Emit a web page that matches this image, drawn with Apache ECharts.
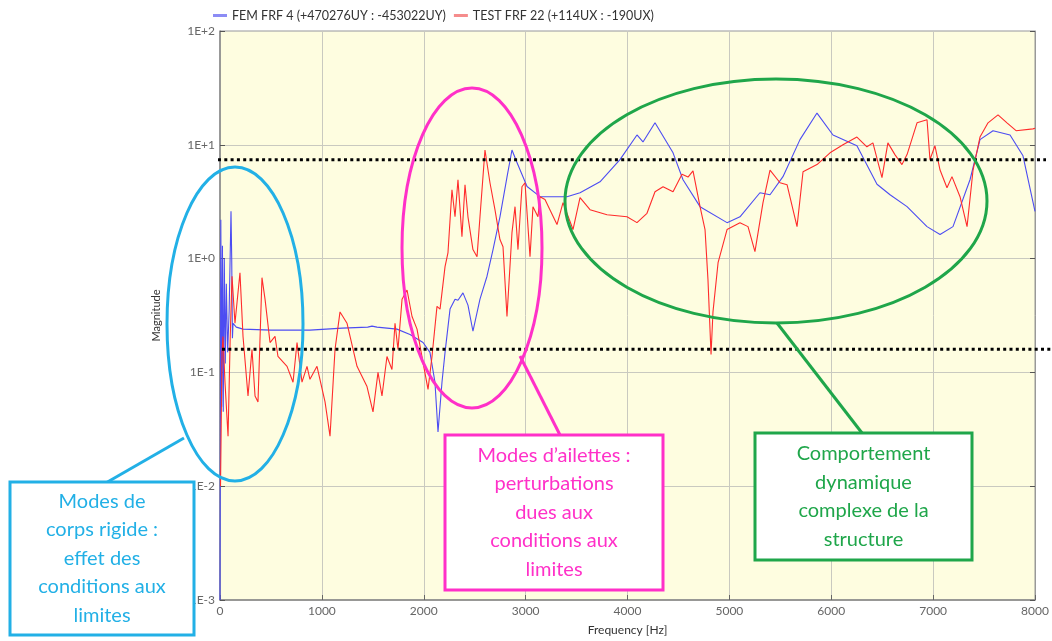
<!DOCTYPE html>
<html>
<head>
<meta charset="utf-8">
<script src="https://cdn.jsdelivr.net/npm/echarts@6/dist/echarts.min.js"></script>
<style>
html,body{margin:0;padding:0;background:#fff;}
#chart{width:1052px;height:641px;}
</style>
</head>
<body>
<div id="chart"></div>
<script>
// ---- data ----
var seriesNames = ['FEM FRF 4 (+470276UY : -453022UY)', 'TEST FRF 22 (+114UX : -190UX)'];

var femFreq = [0,8,16,24,32,42,52,62,75,90,108,115,122,128,160,226,500,883,1200,1450,1492,1510,1541,1737,1865,1993,2061,2110,2140,2179,2209,2258,2307,2336,2385,2434,2483,2552,2621,2680,2748,2817,2866,2915,3014,3141,3406,3534,3730,3926,4093,4152,4270,4447,4545,4712,4977,5104,5300,5399,5526,5693,5860,6017,6252,6449,6577,6744,6940,7068,7195,7362,7460,7588,7755,7882,8000];
var femMag  = [0.001,2.2,0.05,1.3,0.045,1.0,0.12,0.6,0.15,0.35,2.6,1.0,0.2,0.27,0.25,0.24,0.235,0.235,0.245,0.25,0.255,0.245,0.25,0.24,0.215,0.183,0.15,0.082,0.03,0.082,0.15,0.36,0.44,0.43,0.5,0.39,0.23,0.44,0.7,1.2,2.33,5.2,9.0,7.0,4.3,3.5,3.5,3.79,4.73,7.4,12.2,10.6,15.6,8.5,4.93,2.86,2.07,2.33,3.79,3.64,5.25,11.1,19,12.2,9.8,4.5,3.64,2.86,1.91,1.63,1.91,4.93,11.1,13.3,12.2,8.0,2.6];

var testFreq = [5,20,29,49,79,100,118,147,196,226,275,314,344,373,412,442,491,540,569,658,717,756,805,854,883,952,1031,1080,1129,1178,1247,1345,1443,1502,1551,1590,1639,1688,1718,1747,1787,1836,1885,1934,1993,2042,2081,2130,2160,2209,2238,2277,2307,2336,2375,2405,2434,2483,2523,2552,2601,2650,2699,2748,2778,2817,2866,2896,2925,2964,2994,3043,3072,3121,3141,3190,3308,3367,3465,3534,3632,3799,3995,4093,4191,4270,4349,4447,4535,4594,4643,4712,4761,4790,4820,4839,4889,4977,5104,5183,5251,5330,5399,5497,5566,5664,5723,5860,5988,6115,6252,6350,6409,6498,6556,6625,6694,6744,6842,6940,6969,7018,7068,7136,7185,7264,7333,7392,7460,7539,7637,7725,7814,7980,8000];
var testMag  = [0.01,0.15,0.207,0.082,0.0275,0.2,0.7,0.27,0.75,0.207,0.062,0.159,0.062,0.055,0.68,0.44,0.183,0.207,0.138,0.113,0.082,0.183,0.082,0.113,0.087,0.113,0.055,0.0275,0.159,0.34,0.27,0.113,0.075,0.045,0.1,0.062,0.138,0.106,0.27,0.159,0.44,0.53,0.31,0.24,0.122,0.071,0.138,0.38,0.36,0.85,1.13,4.03,2.33,4.93,1.56,4.46,2.33,1.2,1.04,2.33,9.0,4.64,2.69,1.47,1.27,0.31,1.69,2.86,1.2,4.28,4.64,1.04,2.86,2.33,3.5,3.3,1.99,3.1,1.8,3.43,2.69,2.43,2.33,2.07,2.5,3.87,4.28,3.87,5.5,5.2,5.9,2.86,1.8,0.65,0.144,0.34,0.92,1.8,2.07,1.91,1.15,3.1,6.0,4.64,4.46,1.91,5.8,6.7,8.5,10.0,11.7,9.6,10.4,5.15,10.4,8.2,6.7,8.2,15.6,16.6,7.4,9.8,6.0,4.2,5.25,3.5,1.91,6.0,11.7,15.6,18.3,15.6,13.3,13.8,14];

var xTickLabels = ['0','1000','2000','3000','4000','5000','6000','7000','8000'];
var yTickLabels = ['1E-3','1E-2','1E-1','1E+0','1E+1','1E+2'];
var thresholds = [7.4, 0.16];

var noteBlue = ['Modes de','corps rigide :','effet des','conditions aux','limites'];
var notePink = ['Modes d\u2019ailettes :','perturbations','dues aux','conditions aux','limites'];
var noteGreen = ['Comportement','dynamique','complexe de la','structure'];

// ---- chart ----
var chart = echarts.init(document.getElementById('chart'), null, {renderer:'canvas'});
var FONT = 'Lato, "Open Sans", sans-serif';
function pairs(xs, ys){ return xs.map(function(x,i){ return [x, ys[i]]; }); }

var option = {
  animation: false,
  backgroundColor: '#ffffff',
  textStyle: {fontFamily: FONT},
  legend: {
    left: 208, top: 4, itemGap: 8, itemWidth: 14, itemHeight: 3,
    textStyle: {fontFamily: FONT, fontSize: 12.5, color: '#333'},
    data: [
      {name: seriesNames[0], icon: 'rect', itemStyle: {color: '#8c8cf5'}},
      {name: seriesNames[1], icon: 'rect', itemStyle: {color: '#f58c8c'}}
    ]
  },
  grid: {left: 220, right: 17, top: 31, bottom: 40, show: true,
         backgroundColor: '#fefde0', borderColor: '#999', borderWidth: 1},
  xAxis: {
    type: 'value', min: 0, max: 8000, interval: 1000,
    name: 'Frequency [Hz]', nameLocation: 'middle', nameGap: 24,
    nameTextStyle: {fontFamily: FONT, fontSize: 12, color: '#333'},
    axisLine: {show: true, lineStyle: {color: '#888', width: 1.5}},
    axisTick: {show: true, inside: true, length: 5, lineStyle: {color: '#666'}},
    axisLabel: {fontFamily: FONT, fontSize: 12, color: '#666', margin: 5,
      formatter: function(v){ var i = Math.round(v / 1000); return xTickLabels[i] || ''; }},
    splitLine: {show: true, lineStyle: {color: '#c9c9c0', width: 1}}
  },
  yAxis: [{
    type: 'log', logBase: 10, min: 0.001, max: 100,
    name: 'Magnitude', nameLocation: 'middle', nameGap: 58,
    nameTextStyle: {fontFamily: FONT, fontSize: 11, color: '#333'},
    axisLine: {show: true, lineStyle: {color: '#888', width: 1.5}},
    axisTick: {show: true, inside: true, length: 5, lineStyle: {color: '#555'}},
    axisLabel: {fontFamily: FONT, fontSize: 12, color: '#666', margin: 5,
      formatter: function(v){ var i = Math.round(Math.log10(v)) + 3; return yTickLabels[i] || ''; }},
    splitLine: {show: true, lineStyle: {color: '#c9c9c0', width: 1}}
  },{
    type: 'log', logBase: 10, min: 0.001, max: 100, position: 'right',
    axisLine: {show: true, lineStyle: {color: '#999', width: 1}},
    axisTick: {show: true, inside: true, length: 5, lineStyle: {color: '#555'}},
    axisLabel: {show: false}, splitLine: {show: false}
  }],
  series: [
    {name: seriesNames[0], type: 'line', yAxisIndex: 0, showSymbol: false, symbol: 'none',
     data: pairs(femFreq, femMag), lineStyle: {color: '#4c4cf2', width: 1.1}, itemStyle: {color: '#4c4cf2'}},
    {name: seriesNames[1], type: 'line', yAxisIndex: 0, showSymbol: false, symbol: 'none',
     data: pairs(testFreq, testMag), lineStyle: {color: '#ff2b2b', width: 1.1}, itemStyle: {color: '#ff2b2b'}}
  ]
};
chart.setOption(option);

// ---- annotations ----
var CYAN = '#22b0e6', PINK = '#ff30c8', GREEN = '#1fa64a';
var g = [];
thresholds.forEach(function(v, k){
  var y = chart.convertToPixel({yAxisIndex: 0}, v);
  g.push({type: 'line', z: 50, shape: {x1: k === 0 ? 218 : 222, y1: y, x2: k === 0 ? 1046 : 1052, y2: y},
          style: {stroke: '#000', lineWidth: 3, lineDash: [3, 3.3]}});
});
function ell(cx, cy, rx, ry, c){ g.push({type: 'ellipse', z: 60, shape: {cx: cx, cy: cy, rx: rx, ry: ry}, style: {fill: null, stroke: c, lineWidth: 3}}); }
function seg(x1, y1, x2, y2, c){ g.push({type: 'line', z: 60, shape: {x1: x1, y1: y1, x2: x2, y2: y2}, style: {stroke: c, lineWidth: 3}}); }
function box(x, y, w, h, c, lines, lh){
  g.push({type: 'rect', z: 70, shape: {x: x, y: y, width: w, height: h}, style: {fill: '#fff', stroke: c, lineWidth: 3}});
  g.push({type: 'text', z: 71, x: x + w / 2, y: y + h / 2,
          style: {text: lines.join('\n'), fill: c, font: '20px ' + FONT, align: 'center', verticalAlign: 'middle', lineHeight: lh}});
}
ell(235, 324, 68, 157, CYAN);
seg(104, 484, 184, 438, CYAN);
box(10, 482, 184, 153, CYAN, noteBlue, 28.5);
ell(472, 248, 70, 160, PINK);
seg(520, 356, 560, 435, PINK);
box(445, 435, 218, 155, PINK, notePink, 28.5);
ell(776, 201, 211, 122, GREEN);
seg(777, 323, 862, 433, GREEN);
box(755, 433, 217, 127, GREEN, noteGreen, 28.5);
chart.setOption({graphic: g});
</script>
</body>
</html>
